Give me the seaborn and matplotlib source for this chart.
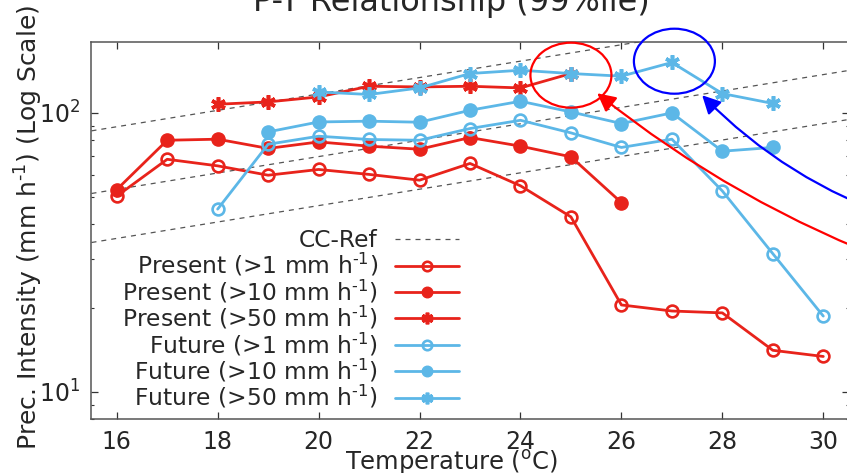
import numpy as np
import pandas as pd
import matplotlib
matplotlib.use("Agg")
import matplotlib.pyplot as plt
import seaborn as sns
from matplotlib.patches import Ellipse

# ---- data: 99th-percentile precipitation intensity (mm/h) vs temperature (degC)
temp_present_1 = [16, 17, 18, 19, 20, 21, 22, 23, 24, 25, 26, 27, 28, 29, 30]
present_1 = [50.3, 68.2, 64.6, 59.8, 62.7, 60.2, 57.4, 65.9, 54.8, 42.4, 20.5, 19.5, 19.2, 14.1, 13.4]

temp_present_10 = [16, 17, 18, 19, 20, 21, 22, 23, 24, 25, 26]
present_10 = [53.1, 79.8, 80.5, 74.6, 78.7, 76.0, 74.1, 81.6, 76.0, 69.6, 47.7]

temp_present_50 = [18, 19, 20, 21, 22, 23, 24, 25]
present_50 = [107.4, 109.5, 114.1, 124.6, 123.9, 124.6, 122.9, 138.4]

temp_future_1 = [18, 19, 20, 21, 22, 23, 24, 25, 26, 27, 28, 29, 30]
future_1 = [45.2, 77.2, 82.5, 80.3, 79.8, 87.9, 94.1, 84.8, 75.2, 80.5, 52.5, 31.3, 18.7]

temp_future_10 = [19, 20, 21, 22, 23, 24, 25, 26, 27, 28, 29]
future_10 = [85.5, 92.8, 93.4, 92.6, 102.2, 110.1, 100.8, 91.6, 100.0, 72.9, 75.2]

temp_future_50 = [20, 21, 22, 23, 24, 25, 26, 27, 28, 29]
future_50 = [118.9, 116.4, 122.9, 138.4, 142.2, 138.4, 135.4, 151.6, 117.3, 108.1]

# Clausius-Clapeyron reference lines (~7 %/degC), anchored at 16 degC
cc_anchor_temp = 16
cc_anchor_values = [35.5, 53.2, 89.2]
cc_rate = 0.07

labels = [
    "Present (>1 mm h$^{\\text{-1}}$)",
    "Present (>10 mm h$^{\\text{-1}}$)",
    "Present (>50 mm h$^{\\text{-1}}$)",
    "Future (>1 mm h$^{\\text{-1}}$)",
    "Future (>10 mm h$^{\\text{-1}}$)",
    "Future (>50 mm h$^{\\text{-1}}$)",
]

RED = "#E8231B"
BLUE = "#5CB7E7"
XLIM = (15.5, 30.5)
YLIM = (8, 180)

sns.set_style("ticks")
plt.rcParams["font.family"] = ["DejaVu Sans"]
plt.rcParams["mathtext.fontset"] = "dejavusans"

fig = plt.figure(figsize=(8.47, 4.73), dpi=100)
ax = fig.add_axes([0.1080, 0.1142, 0.8938, 0.7977])
ax.set_yscale("log")
ax.set_xlim(*XLIM)
ax.set_ylim(*YLIM)

# CC reference lines across the full temperature range
cc_x = np.array(XLIM)
for i, v0 in enumerate(cc_anchor_values):
    cc_y = v0 * (1 + cc_rate) ** (cc_x - cc_anchor_temp)
    sns.lineplot(x=cc_x, y=cc_y, ax=ax, color="#555555", lw=0.9,
                 linestyle=(0, (4, 4)), label="CC-Ref" if i == 0 else None,
                 legend=False)

series = [
    (temp_present_1, present_1, RED, "o", True),
    (temp_present_10, present_10, RED, "o", False),
    (temp_present_50, present_50, RED, (6, 2, 0), False),
    (temp_future_1, future_1, BLUE, "o", True),
    (temp_future_10, future_10, BLUE, "o", False),
    (temp_future_50, future_50, BLUE, (6, 2, 0), False),
]
for (tx, vy, col, mk, hollow), lab in zip(series, labels):
    if hollow:
        mkw = dict(markersize=8.5, markerfacecolor="none", markeredgecolor=col,
                   markeredgewidth=1.9)
    elif mk == "o":
        mkw = dict(markersize=9.5, markerfacecolor=col, markeredgecolor=col,
                   markeredgewidth=1.0)
    else:
        mkw = dict(markersize=10.5, markerfacecolor=col, markeredgecolor=col,
                   markeredgewidth=2.6)
    sns.lineplot(x=tx, y=vy, ax=ax, color=col, lw=2.0, marker=mk,
                 label=lab, legend=False, **mkw)

# axes styling
ax.set_xticks([16, 18, 20, 22, 24, 26, 28, 30])
ax.tick_params(which="both", direction="in", top=True, right=True,
               labelsize=17, color="#333333", pad=8)
ax.tick_params(which="major", length=5, width=0.9)
ax.tick_params(which="minor", length=2.5, width=0.8)
ax.tick_params(axis="x", which="minor", bottom=False, top=False)
for sp in ax.spines.values():
    sp.set_color("#555555")
    sp.set_linewidth(1.1)

ax.set_xlabel("Temperature ($^{\\mathrm{o}}$C)", fontsize=17.5)
ax.xaxis.set_label_coords(0.476, -0.077)
ax.set_ylabel("Prec. Intensity (mm h$^{\\text{-1}}$) (Log Scale)", fontsize=18)
ax.yaxis.set_label_coords(-0.061, 0.508)
ax.set_title("P-T Relationship (99%ile)", fontsize=23, x=0.475, pad=22)

# legend: labels on the left, handles on the right
handles, labs = ax.get_legend_handles_labels()
ax.legend(handles, labs, loc="center right", bbox_to_anchor=(0.486, 0.262),
          fontsize=16.8, frameon=False, markerfirst=False, handlelength=2.75,
          handletextpad=0.75, labelspacing=-0.035, markerscale=0.8,
          borderpad=0, borderaxespad=0)


def to_axes(xv, yv):
    return ax.transLimits.transform(ax.transScale.transform((xv, yv)))


# highlight ellipses (sized in pixels -> axes fraction)
bbox = ax.get_window_extent()
for (cx, cy), col in [((25.0, 136.5), "#FF0000"), ((27.05, 153.2), "#0000FF")]:
    c = to_axes(cx, cy)
    ax.add_patch(Ellipse(c, 81 / bbox.width, 65 / bbox.height,
                         transform=ax.transAxes, fill=False, ec=col, lw=1.6,
                         clip_on=False, zorder=5))

# curved arrows pointing at the highlighted peaks
for tip, start, col, rad in [((25.52, 117.6), (31.52, 28.5), "#FF0000", -0.08),
                             ((27.6, 115.7), (31.52, 41.5), "#0000FF", -0.12)]:
    ax.annotate("", xy=tip, xytext=start, xycoords="data", textcoords="data",
                annotation_clip=False,
                arrowprops=dict(arrowstyle="-|>,head_length=0.55,head_width=0.28",
                                mutation_scale=20, color=col, lw=1.6,
                                shrinkA=0, shrinkB=0,
                                connectionstyle=f"arc3,rad={rad}"))

fig.savefig("out.png", dpi=100)
